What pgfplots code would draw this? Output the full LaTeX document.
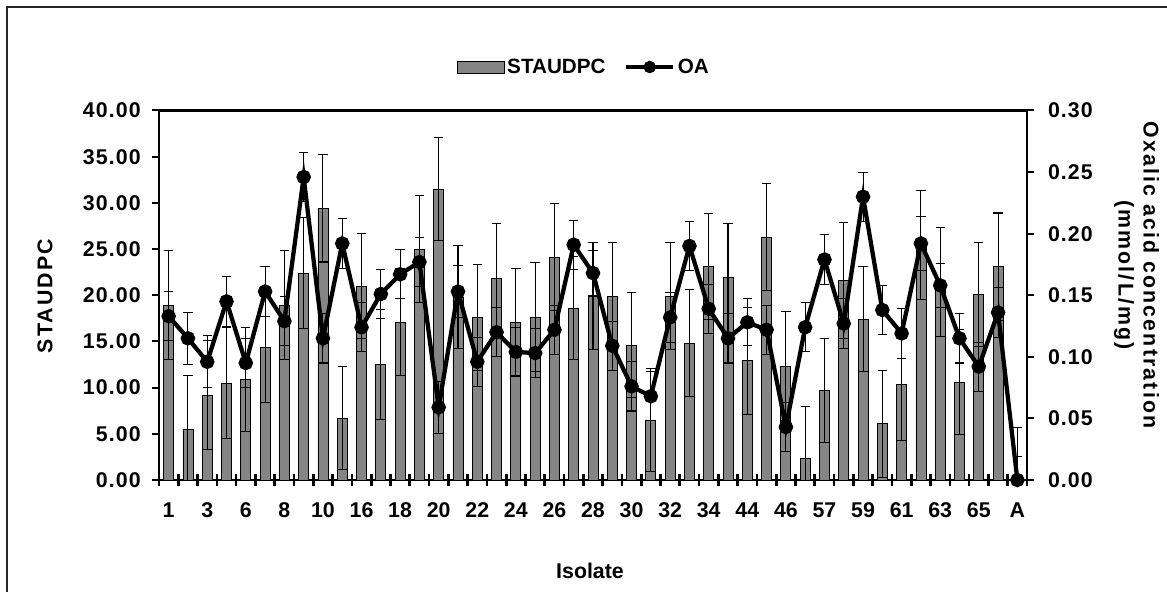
\documentclass[border=0pt]{standalone}
\usepackage{pgfplots}
\pgfplotsset{compat=1.18}
\usepackage{pgfplotstable}
\usepackage{fontspec}
\setmainfont{Liberation Sans}
\newfontfamily\lsA[LetterSpace=10]{Liberation Sans}
\newfontfamily\lsB[LetterSpace=5]{Liberation Sans}

\pgfplotsset{
  barlegend/.style={legend image code/.code={\draw[fill=black!48, draw=black, line width=0.6pt] (0pt,-4.5pt) rectangle (35pt,4.5pt);}},
  linelegend/.style={legend image code/.code={\draw[##1, mark repeat=2, mark phase=2, mark size=3pt] plot coordinates {(0pt,0pt) (17.5pt,0pt) (35pt,0pt)};}},
}

\pgfplotstableread{
x  s     se   oa     oae
0  18.9  5.9  0.133  0.020
1  5.5   5.8  0.115  0.021
2  9.2   5.9  0.096  0.021
3  10.5  6.0  0.145  0.020
4  10.9  5.6  0.095  0.020
5  14.3  5.9  0.153  0.020
6  18.9  5.9  0.129  0.020
7  22.4  6.0  0.246  0.020
8  29.4  5.8  0.115  0.020
9  6.7   5.6  0.192  0.020
10 21.0  5.7  0.124  0.020
11 12.5  6.0  0.151  0.020
12 17.1  5.8  0.167  0.020
13 25.0  5.8  0.177  0.020
14 31.5  5.6  0.059  0.021
15 19.8  5.6  0.153  0.021
16 17.6  5.7  0.096  0.020
17 21.8  6.0  0.120  0.020
18 17.1  5.8  0.104  0.020
19 17.6  5.9  0.103  0.020
20 24.1  5.8  0.122  0.020
21 18.6  5.6  0.191  0.020
22 19.9  5.8  0.168  0.018
23 19.9  5.8  0.109  0.020
24 14.6  5.7  0.076  0.020
25 6.5   5.6  0.068  0.020
26 19.9  5.8  0.132  0.020
27 14.8  5.8  0.190  0.020
28 23.1  5.7  0.139  0.020
29 21.9  5.9  0.115  0.020
30 12.9  5.8  0.128  0.019
31 26.3  5.8  0.122  0.020
32 12.3  5.9  0.043  0.020
33 2.3   5.7  0.124  0.020
34 9.7   5.6  0.179  0.020
35 21.6  6.3  0.127  0.020
36 17.4  5.7  0.230  0.020
37 6.1   5.8  0.138  0.020
38 10.3  6.0  0.119  0.020
39 25.4  5.9  0.192  0.022
40 21.4  5.9  0.158  0.018
41 10.6  5.7  0.115  0.020
42 20.1  5.6  0.092  0.020
43 23.1  5.8  0.136  0.020
44 0.0   5.7  0.000  0.019
}\data

\begin{document}
\begin{tikzpicture}
\useasboundingbox (0,0) rectangle (875.25pt,444pt);
\draw[line width=1.1pt, black!85] (5.25pt,-5pt) -- (5.25pt,438.75pt) -- (880pt,438.75pt);
\pgfplotsset{
  myaxis/.style={
    at={(119.25pt,84pt)}, anchor=south west,
    width=651pt, height=277.125pt, scale only axis,
    xmin=-0.5, xmax=44.5,
    axis line style={line width=2pt, black},
    /pgf/number format/assume math mode=true,
    tick label style={font=\fontsize{16}{19}\selectfont\bfseries},
    major tick length=5.25pt,
    minor tick length=9pt,
  }
}
\begin{axis}[myaxis,
  ymin=0, ymax=40,
  ytick={0,5,...,40},
  ytick pos=left,
  ytick align=outside,
  xtick pos=bottom,
  xtick align=center,
  xtick={0,2,...,44},
  xticklabels={1,3,6,8,10,16,18,20,22,24,26,28,30,32,34,44,46,57,59,61,63,65,A},
  minor xtick={-0.5,0.5,...,44.5},
  every major x tick/.append style={draw=none},
  every minor x tick/.append style={line width=2pt, black},
  every major y tick/.append style={line width=1.5pt, black},
  y tick label style={font=\fontsize{16}{19}\lsB\bfseries, xshift=-5pt, /pgf/number format/.cd, fixed, fixed zerofill, precision=2, /tikz/.cd},
  x tick label style={yshift=-11pt},
  scaled y ticks=false,
]
\addplot[ybar, bar width=7.5pt, fill=black!48, draw=black, line width=0.6pt,
  error bars/.cd, y dir=both, y explicit,
  error bar style={line width=0.8pt, black},
  error mark options={rotate=90, mark size=3.5pt, line width=0.8pt, black}]
  table[x=x, y=s, y error=se] {\data};
\end{axis}
\begin{axis}[myaxis,
  ymin=0, ymax=0.3,
  ytick={0,0.05,...,0.3},
  axis y line*=right,
  axis x line=none,
  ytick align=outside,
  every major y tick/.append style={line width=1.5pt, black},
  y tick label style={font=\fontsize{16}{19}\lsB\bfseries, xshift=7pt, /pgf/number format/.cd, fixed, fixed zerofill, precision=2, /tikz/.cd},
  scaled y ticks=false,
  legend style={at={(0.49,1)}, anchor=center, yshift=32.6pt, draw=none, fill=none,
    font=\fontsize{15.5}{18}\selectfont\bfseries, legend columns=-1,
    /tikz/every even column/.append style={column sep=12pt}},
]
\addlegendimage{barlegend}
\addlegendentry{STAUDPC}
\addplot[black, line width=3.2pt, mark=*, mark size=3.8pt, mark options={solid, fill=black},
  linelegend,
  error bars/.cd, y dir=both, y explicit,
  error bar style={line width=0.8pt, black},
  error mark options={rotate=90, mark size=3.5pt, line width=0.8pt, black}]
  table[x=x, y=oa, y error=oae] {\data};
\addlegendentry{OA}
\end{axis}
\node[rotate=90, font=\fontsize{16}{19}\lsA\bfseries] at (33.75pt,222pt) {STAUDPC};
\node[rotate=-90, align=center, font=\fontsize{16}{18.75}\lsA\bfseries] at (852.4pt,237.75pt) {Oxalic acid concentration\\(mmol/L/mg)};
\node[font=\fontsize{16}{19}\selectfont\bfseries] at (442.5pt,15.75pt) {Isolate};
\end{tikzpicture}
\end{document}
